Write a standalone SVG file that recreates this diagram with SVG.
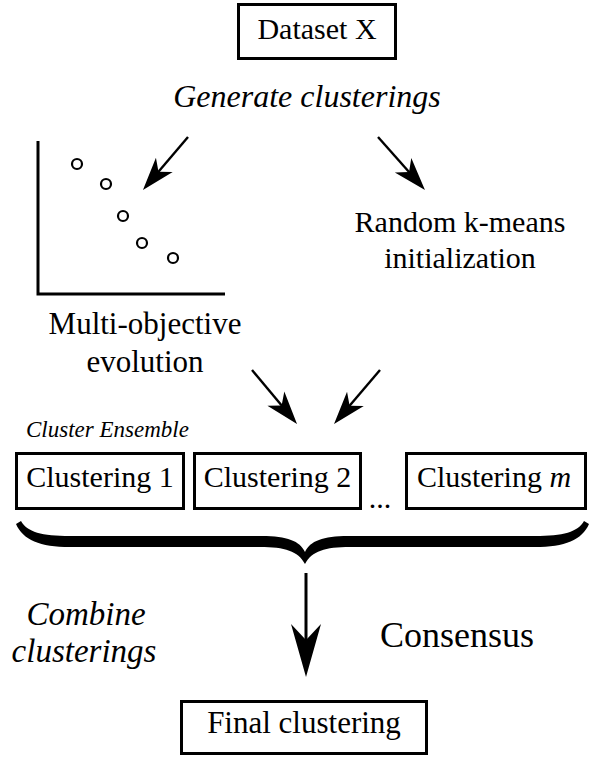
<svg xmlns="http://www.w3.org/2000/svg" width="589" height="758" viewBox="0 0 589 758">
<style>
text{font-family:'Liberation Serif','Times New Roman',serif;fill:#000}
.it{font-style:italic}
.box{fill:#fff;stroke:#000;stroke-width:3}
.ax{fill:none;stroke:#000;stroke-width:3}
.pt{fill:#fff;stroke:#000;stroke-width:2.2}
.ar{fill:none;stroke:#000;stroke-width:2.4}
</style>
<defs>
<marker id="ah" markerUnits="userSpaceOnUse" viewBox="-35 -12 36 24" markerWidth="36" markerHeight="24" refX="-20" refY="0" orient="auto">
<path d="M0,0 L-33,-11 L-24,0 L-33,11 Z" fill="#000"/>
</marker>
<marker id="ahb" markerUnits="userSpaceOnUse" viewBox="-55 -16 56 32" markerWidth="56" markerHeight="32" refX="-30" refY="0" orient="auto">
<path d="M0,0 L-53,-15 L-37,0 L-53,15 Z" fill="#000"/>
</marker>
</defs>
<rect width="589" height="758" fill="#fff"/>

<g id="dataset">
<rect class="box" x="238.5" y="4.5" width="157" height="54"/>
<text x="317" y="39" font-size="30" text-anchor="middle">Dataset X</text>
</g>
<g id="generate">
<text class="it" x="307" y="107" font-size="32" text-anchor="middle">Generate clusterings</text>
</g>
<g id="scatter">
<path class="ax" d="M38,141 V294 H225"/>
<circle class="pt" cx="77" cy="164" r="5"/>
<circle class="pt" cx="106" cy="184" r="5"/>
<circle class="pt" cx="123" cy="216" r="5"/>
<circle class="pt" cx="142" cy="243" r="5"/>
<circle class="pt" cx="173" cy="258" r="5"/>
</g>
<g id="random">
<text x="460" y="232" font-size="30" text-anchor="middle">Random k-means</text>
<text x="460" y="268" font-size="30" text-anchor="middle">initialization</text>
</g>
<g id="multi">
<text x="145" y="334" font-size="31" text-anchor="middle">Multi-objective</text>
<text x="145" y="372" font-size="31" text-anchor="middle">evolution</text>
</g>
<g id="ensemble-label">
<text class="it" x="26" y="437" font-size="23">Cluster Ensemble</text>
</g>
<g id="c1">
<rect class="box" x="16.5" y="453.5" width="167" height="55"/>
<text x="100" y="487" font-size="30" text-anchor="middle">Clustering 1</text>
</g>
<g id="c2">
<rect class="box" x="194.5" y="453.5" width="166" height="55"/>
<text x="277.5" y="487" font-size="30" text-anchor="middle">Clustering 2</text>
</g>
<g id="dots">
<text x="380" y="508" font-size="30" text-anchor="middle">...</text>
</g>
<g id="cm">
<rect class="box" x="406.5" y="453.5" width="179" height="55"/>
<text x="494" y="487" font-size="30" text-anchor="middle">Clustering <tspan class="it">m</tspan></text>
</g>
<g id="brace">
<path fill="#000" d="M21,521 C27,532 42,536 70,536 L262,536 C287,536 300,541 305,552 C310,541 323,536 348,536 L535,536 C563,536 578,532 584,521 L589,524 C582,540 565,547 535,547 L350,547 C325,547 312,551 305,564 C298,551 285,547 260,547 L70,547 C40,547 23,540 16,524 Z"/>
</g>
<g id="combine">
<text class="it" x="86" y="625" font-size="33" text-anchor="middle">Combine</text>
<text class="it" x="84" y="662" font-size="33" text-anchor="middle">clusterings</text>
</g>
<g id="consensus">
<text x="380" y="647" font-size="36">Consensus</text>
</g>
<g id="final">
<rect class="box" x="181.5" y="701.5" width="245" height="52"/>
<text x="304" y="733" font-size="31" text-anchor="middle">Final clustering</text>
</g>
<g id="connectors">
<line class="ar" x1="188" y1="137" x2="155.9" y2="174.8" marker-end="url(#ah)"/>
<line class="ar" x1="378" y1="137" x2="411.7" y2="175" marker-end="url(#ah)"/>
<line class="ar" x1="252" y1="370" x2="284.2" y2="408.6" marker-end="url(#ah)"/>
<line class="ar" x1="380" y1="370" x2="347" y2="408.8" marker-end="url(#ah)"/>
<line x1="306" y1="573" x2="306" y2="647" stroke="#000" stroke-width="3" marker-end="url(#ahb)"/>
</g>
</svg>
